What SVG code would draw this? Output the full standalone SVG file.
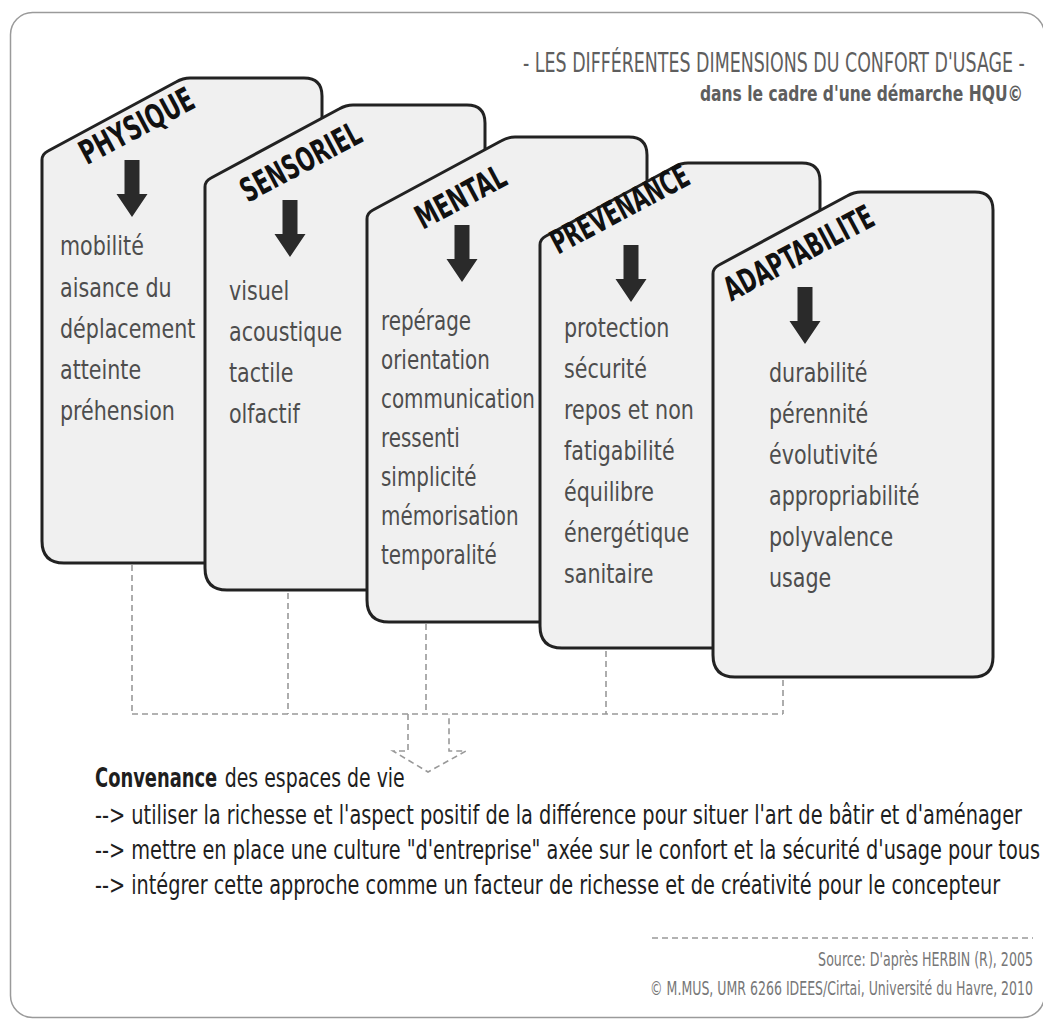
<svg xmlns="http://www.w3.org/2000/svg" xmlns:xlink="http://www.w3.org/1999/xlink" width="1043" height="1019" viewBox="0 0 1043 1019">
<style>
.card{fill:#f0f0f0;stroke:#222;stroke-width:3;stroke-linejoin:round}
.arrow{fill:#2a2a2a}
.title{font-family:"DejaVu Sans Condensed","DejaVu Sans",sans-serif;font-stretch:condensed;font-weight:bold;font-size:33px;fill:#111}
.body{font-family:"DejaVu Sans Condensed","DejaVu Sans",sans-serif;font-stretch:condensed;font-size:27px;fill:#4d4d4d}
.dash{fill:none;stroke:#999;stroke-width:1.6;stroke-dasharray:6 4}
.hdr{font-family:"DejaVu Sans Condensed","DejaVu Sans",sans-serif;font-stretch:condensed;fill:#5e5e5e}
.foot{font-family:"DejaVu Sans Condensed","DejaVu Sans",sans-serif;font-stretch:condensed;font-size:26px;fill:#1e1e1e}
.src{font-family:"DejaVu Sans Condensed","DejaVu Sans",sans-serif;font-stretch:condensed;font-size:20px;fill:#777}
</style>
<defs>
<path id="cardShape" d="M0,82 Q0,76 6,73 L134,4 Q141,0 148,0 L262,0 Q280,0 280,18 L280,465 Q280,485 260,485 L22,485 Q0,485 0,463 Z"/>
<path id="arrowShape" d="M-7.5,0 H7.5 V34 H15.5 L0,57 L-15.5,34 H-7.5 Z"/>
</defs>
<rect x="10.5" y="12.5" width="1034" height="1005" rx="22" fill="#fff" stroke="#9a9a9a" stroke-width="1.5"/>
<g id="header">
<g transform="translate(523,72) scale(0.65,1)">
<text class="hdr" x="0" y="0" font-size="27" textLength="772" lengthAdjust="spacingAndGlyphs">- LES DIFFÉRENTES DIMENSIONS DU CONFORT D'USAGE -</text>
</g>
<g transform="translate(700,101) scale(0.76,1)">
<text class="hdr" x="0" y="0" font-size="22" font-weight="bold" textLength="425" lengthAdjust="spacingAndGlyphs">dans le cadre d'une démarche HQU©</text>
</g>
</g>
<g id="connectors">
<path class="dash" d="M132,565 V714 M288,593 V714 M426,624 V714 M606,651 V714 M783,680 V714 M132,714 H783"/>
<path class="dash" d="M408,714 V751 H393 L428,772 L466,751 H449 V714"/>
</g>
<g id="card-physique">
<use xlink:href="#cardShape" class="card" transform="translate(42,78)"/>
<text class="title" transform="translate(142,136) rotate(-28)" text-anchor="middle" textLength="125" lengthAdjust="spacingAndGlyphs">PHYSIQUE</text>
<use xlink:href="#arrowShape" class="arrow" transform="translate(132,160)"/>
<g transform="translate(60,0) scale(0.85,1)">
<text class="body" x="0" y="255">mobilité</text>
<text class="body" x="0" y="297">aisance du</text>
<text class="body" x="0" y="338">déplacement</text>
<text class="body" x="0" y="379">atteinte</text>
<text class="body" x="0" y="420">préhension</text>
</g>
</g>
<g id="card-sensoriel">
<use xlink:href="#cardShape" class="card" transform="translate(205,105)"/>
<text class="title" transform="translate(306,172) rotate(-28)" text-anchor="middle" textLength="132" lengthAdjust="spacingAndGlyphs">SENSORIEL</text>
<use xlink:href="#arrowShape" class="arrow" transform="translate(290,200)"/>
<g transform="translate(229,0) scale(0.85,1)">
<text class="body" x="0" y="300">visuel</text>
<text class="body" x="0" y="341">acoustique</text>
<text class="body" x="0" y="382">tactile</text>
<text class="body" x="0" y="423">olfactif</text>
</g>
</g>
<g id="card-mental">
<use xlink:href="#cardShape" class="card" transform="translate(367,137)"/>
<text class="title" transform="translate(466,207) rotate(-28)" text-anchor="middle" textLength="98" lengthAdjust="spacingAndGlyphs">MENTAL</text>
<use xlink:href="#arrowShape" class="arrow" transform="translate(462,225)"/>
<g transform="translate(381,0) scale(0.82,1)">
<text class="body" x="0" y="330">repérage</text>
<text class="body" x="0" y="369">orientation</text>
<text class="body" x="0" y="408">communication</text>
<text class="body" x="0" y="447">ressenti</text>
<text class="body" x="0" y="486">simplicité</text>
<text class="body" x="0" y="525">mémorisation</text>
<text class="body" x="0" y="564">temporalité</text>
</g>
</g>
<g id="card-prevenance">
<use xlink:href="#cardShape" class="card" transform="translate(540,163)"/>
<text class="title" transform="translate(625,219) rotate(-28)" text-anchor="middle" textLength="152" lengthAdjust="spacingAndGlyphs">PREVENANCE</text>
<use xlink:href="#arrowShape" class="arrow" transform="translate(631,245)"/>
<g transform="translate(564,0) scale(0.85,1)">
<text class="body" x="0" y="337">protection</text>
<text class="body" x="0" y="378">sécurité</text>
<text class="body" x="0" y="419">repos et non</text>
<text class="body" x="0" y="460">fatigabilité</text>
<text class="body" x="0" y="501">équilibre</text>
<text class="body" x="0" y="542">énergétique</text>
<text class="body" x="0" y="583">sanitaire</text>
</g>
</g>
<g id="card-adaptabilite">
<use xlink:href="#cardShape" class="card" transform="translate(713,192)"/>
<text class="title" transform="translate(804,263) rotate(-28)" text-anchor="middle" textLength="165" lengthAdjust="spacingAndGlyphs">ADAPTABILITE</text>
<use xlink:href="#arrowShape" class="arrow" transform="translate(805,287)"/>
<g transform="translate(769,0) scale(0.85,1)">
<text class="body" x="0" y="382">durabilité</text>
<text class="body" x="0" y="423">pérennité</text>
<text class="body" x="0" y="464">évolutivité</text>
<text class="body" x="0" y="505">appropriabilité</text>
<text class="body" x="0" y="546">polyvalence</text>
<text class="body" x="0" y="587">usage</text>
</g>
</g>
<g id="conclusion">
<g transform="translate(95,787) scale(0.75,1)">
<text class="foot" x="0" y="0" font-weight="bold" fill="#111" textLength="163" lengthAdjust="spacingAndGlyphs">Convenance</text>
<text class="foot" x="173" y="0" textLength="240" lengthAdjust="spacingAndGlyphs">des espaces de vie</text>
</g>
<g transform="translate(95,0) scale(0.75,1)">
<text class="foot" x="0" y="824" textLength="1236" lengthAdjust="spacingAndGlyphs">--&gt; utiliser la richesse et l'aspect positif de la différence pour situer l'art de bâtir et d'aménager</text>
<text class="foot" x="0" y="859" textLength="1260" lengthAdjust="spacingAndGlyphs">--&gt; mettre en place une culture "d'entreprise" axée sur le confort et la sécurité d'usage pour tous</text>
<text class="foot" x="0" y="894" textLength="1207" lengthAdjust="spacingAndGlyphs">--&gt; intégrer cette approche comme un facteur de richesse et de créativité pour le concepteur</text>
</g>
</g>
<g id="source">
<path class="dash" d="M652,938 H1033"/>
<g transform="translate(1033,0) scale(0.7,1)">
<text class="src" x="0" y="966" text-anchor="end" textLength="307" lengthAdjust="spacingAndGlyphs">Source: D'après HERBIN (R), 2005</text>
<text class="src" x="0" y="995" text-anchor="end" textLength="547" lengthAdjust="spacingAndGlyphs">© M.MUS, UMR 6266 IDEES/Cirtai, Université du Havre, 2010</text>
</g>
</g>
</svg>
